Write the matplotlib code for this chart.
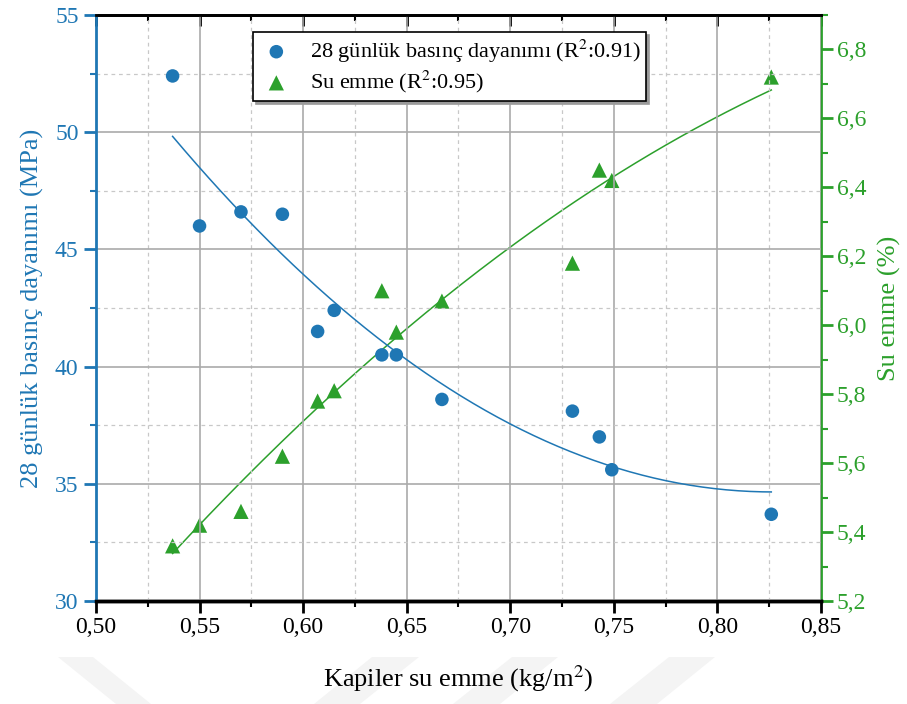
import numpy as np
import matplotlib.pyplot as plt
from matplotlib.ticker import MultipleLocator, FuncFormatter
from matplotlib.patches import Polygon

# Kapiler su emme (kg/m2) for each mix
kapiler = [0.537, 0.550, 0.570, 0.590, 0.607, 0.615, 0.638, 0.645, 0.667, 0.730, 0.743, 0.749, 0.826]
# 28 day compressive strength (MPa)
dayanim = [52.4, 46.0, 46.6, 46.5, 41.5, 42.4, 40.5, 40.5, 38.6, 38.1, 37.0, 35.6, 33.7]
# water absorption (%)
su_emme = [5.36, 5.42, 5.46, 5.62, 5.78, 5.81, 6.10, 5.98, 6.07, 6.18, 6.45, 6.42, 6.72]

blue = '#1f77b4'
green = '#2ca02c'

plt.rcParams['font.family'] = ['Liberation Serif', 'DejaVu Serif']
plt.rcParams['mathtext.fontset'] = 'stix'

fig = plt.figure(figsize=(9.07, 7.04), dpi=100)

# faint background stripes under the axis
W, H = 907, 704
stripes = [
    [(58, 657), (93, 657), (151, 704), (116, 704)],
    [(372, 657), (419, 657), (360, 704), (314, 704)],
    [(512, 657), (558, 657), (500, 704), (453, 704)],
    [(669, 657), (715, 657), (657, 704), (610, 704)],
]
for pts in stripes:
    fig.patches.append(Polygon([(px / W, 1 - py / H) for px, py in pts], closed=True,
                               transform=fig.transFigure, facecolor='#f4f4f4',
                               edgecolor='none', zorder=0))

ax = fig.add_axes([0.1058, 0.1463, 0.7994, 0.8324])
ax2 = ax.twinx()

x = np.array(kapiler)
xs = np.linspace(x.min(), x.max(), 200)

# quadratic fits
p1 = np.polyfit(x, dayanim, 2)
p2 = np.polyfit(x, su_emme, 2)

ax.plot(xs, np.polyval(p1, xs), color=blue, lw=1.1, zorder=3)
s1 = ax.scatter(x, dayanim, s=95, color=blue, marker='o', edgecolors='none', zorder=4,
                label='28 günlük basınç dayanımı (R$^2$:0.91)')
ax2.plot(xs, np.polyval(p2, xs), color=green, lw=1.1, zorder=3)
s2 = ax2.scatter(x, su_emme, s=120, color=green, marker='^', edgecolors='none', zorder=4,
                 label='Su emme (R$^2$:0.95)')

ax.set_xlim(0.5, 0.85)
ax.set_ylim(30, 55)
ax2.set_ylim(5.2, 6.9)

ax.xaxis.set_major_locator(MultipleLocator(0.05))
ax.xaxis.set_minor_locator(MultipleLocator(0.025))
ax.yaxis.set_major_locator(MultipleLocator(5))
ax.yaxis.set_minor_locator(MultipleLocator(2.5))
ax2.yaxis.set_major_locator(MultipleLocator(0.2))
ax2.yaxis.set_minor_locator(MultipleLocator(0.1))

comma2 = FuncFormatter(lambda v, p: f'{v:.2f}'.replace('.', ','))
comma1 = FuncFormatter(lambda v, p: f'{v:.1f}'.replace('.', ','))
ax.xaxis.set_major_formatter(comma2)
ax2.yaxis.set_major_formatter(comma1)

# grid: solid at major, dashed at minor
ax.grid(which='major', color='#aaaaaa', lw=1.2, ls='-')
ax.grid(which='minor', color='#c8c8c8', lw=0.9, ls=(0, (3, 3)))
ax.set_axisbelow(True)

# spines
for a in (ax, ax2):
    a.spines['top'].set_color('black')
    a.spines['top'].set_linewidth(2)
    a.spines['bottom'].set_color('black')
    a.spines['bottom'].set_linewidth(2.5)
ax.spines['left'].set_color(blue)
ax.spines['left'].set_linewidth(2)
ax2.spines['right'].set_color(green)
ax2.spines['right'].set_linewidth(2)
ax2.spines['left'].set_visible(False)
ax.spines['right'].set_visible(False)

ax.tick_params(axis='x', which='major', direction='out', length=8.5, width=2, color='black',
               labelsize=17, pad=3)
ax.tick_params(axis='x', which='minor', direction='out', length=4, width=1.5, color='black')
ax.tick_params(axis='y', which='major', direction='out', length=8.5, width=2, color=blue,
               labelcolor=blue, labelsize=17, pad=4)
ax.tick_params(axis='y', which='minor', direction='out', length=4.5, width=1.5, color=blue)
ax2.tick_params(axis='y', which='major', direction='out', length=8.5, width=2, color=green,
                labelcolor=green, labelsize=17, pad=3)
ax2.tick_params(axis='y', which='minor', direction='out', length=5, width=1.5, color=green)

# top ticks point into the plot (drawn by the twin's shared x axis)
ax2.xaxis.set_visible(True)
ax2.tick_params(axis='x', which='both', bottom=False, top=True, labelbottom=False,
                labeltop=False, direction='in', color='black')
ax2.tick_params(axis='x', which='major', length=8, width=2)
ax2.tick_params(axis='x', which='minor', length=4, width=1.5)

ax.set_xlabel('Kapiler su emme (kg/m$^2$)', fontsize=19, labelpad=18)
ax.set_ylabel('28 günlük basınç dayanımı (MPa)', fontsize=19, color=blue, labelpad=8)
ax2.set_ylabel('Su emme (%)', fontsize=19, color=green, labelpad=8)

leg = ax.legend(handles=[s1, s2], loc='upper left', bbox_to_anchor=(0.2166, 0.971),
                fontsize=16, frameon=True, fancybox=False, edgecolor='black',
                framealpha=1, borderpad=0.25, handletextpad=0.7, labelspacing=0.2,
                borderaxespad=0, handlelength=1.6,
                shadow={'color': '#9a9a9a', 'alpha': 1})
leg.get_frame().set_linewidth(1.2)
leg.set_zorder(10)
ax.set_zorder(ax2.get_zorder() + 1)
ax.patch.set_visible(False)

fig.savefig('out.png', dpi=100)
